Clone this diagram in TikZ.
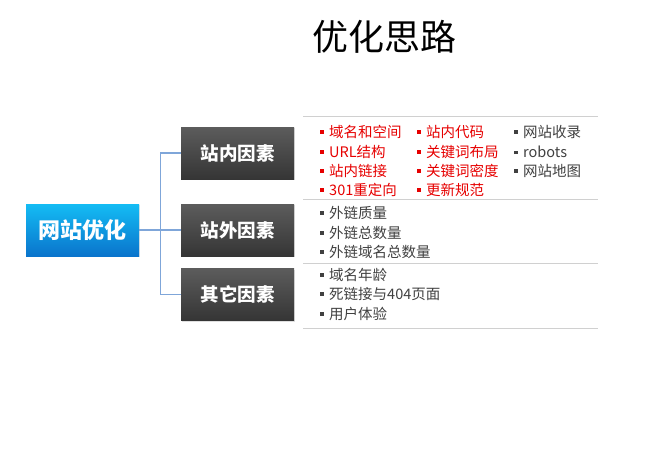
\documentclass[tikz,border=0pt]{standalone}
\usepackage{fontspec}
\setmainfont{Noto Sans CJK SC}
\usetikzlibrary{shadows}
\definecolor{itemred}{HTML}{E60000}
\definecolor{itemgray}{HTML}{404040}
\definecolor{linkblue}{HTML}{7FA6D9}
\definecolor{sepgray}{HTML}{D0D0D0}
\definecolor{boxtop}{HTML}{5C5C5C}
\definecolor{boxbot}{HTML}{353535}
\definecolor{bluetop}{HTML}{14BCF4}
\definecolor{bluebot}{HTML}{0A74CC}
\newcommand{\bul}[1]{\textcolor{#1}{\rule[0.25em]{3.5pt}{3.5pt}}\hspace{5.5pt}}
\tikzset{
  darkbox/.style={minimum width=113pt, minimum height=52pt, inner sep=0pt,
    top color=boxtop, bottom color=boxbot, draw=none, text=white,
    font=\fontsize{18.5}{22}\selectfont\bfseries,
    drop shadow={opacity=0.25, shadow xshift=1pt, shadow yshift=-1pt}},
  bluebox/.style={minimum width=113pt, minimum height=52pt, inner sep=0pt,
    top color=bluetop, bottom color=bluebot, draw=none, text=white,
    font=\fontsize{22}{26}\selectfont\bfseries,
    drop shadow={opacity=0.2, shadow xshift=1pt, shadow yshift=-1pt}},
  link/.style={draw=linkblue, line width=1.1pt},
  sep/.style={draw=sepgray, line width=1pt},
  ritem/.style={anchor=west, inner sep=0pt, text=itemred, font=\fontsize{14.5}{16}\selectfont},
  gitem/.style={anchor=west, inner sep=0pt, text=itemgray, font=\fontsize{14.5}{16}\selectfont},
}
\begin{document}
\begin{tikzpicture}[x=1pt,y=-1pt]
\useasboundingbox (0,0) rectangle (652,464);
\node[inner sep=0pt, font=\fontsize{36}{42}\selectfont] (title) at (384,37) {优化思路};

\node[bluebox] (web) at (82.5,230) {网站优化};
\node[darkbox] (in) at (237.5,153) {站内因素};
\node[darkbox] (out) at (237.5,230) {站外因素};
\node[darkbox] (oth) at (237.5,294.5) {其它因素};

\draw[link] (web.east) -- ++(21,0) |- (in.west);
\draw[link] (web.east) -- (out.west);
\draw[link] (web.east) -- ++(21,0) |- (oth.west);

\draw[sep] (303,116) -- (598,116);
\draw[sep] (303,199) -- (598,199);
\draw[sep] (303,263) -- (598,263);
\draw[sep] (303,328) -- (598,328);

\node[ritem] (a1) at (320,132) {\bul{itemred}域名和空间};
\node[ritem] (a2) at (320,152) {\bul{itemred}URL结构};
\node[ritem] (a3) at (320,171) {\bul{itemred}站内链接};
\node[ritem] (a4) at (320,190) {\bul{itemred}301重定向};
\node[ritem] (b1) at (417,132) {\bul{itemred}站内代码};
\node[ritem] (b2) at (417,152) {\bul{itemred}关键词布局};
\node[ritem] (b3) at (417,171) {\bul{itemred}关键词密度};
\node[ritem] (b4) at (417,190) {\bul{itemred}更新规范};
\node[gitem] (c1) at (514,132) {\bul{itemgray}网站收录};
\node[gitem] (c2) at (514,152) {\bul{itemgray}robots};
\node[gitem] (c3) at (514,171) {\bul{itemgray}网站地图};

\node[gitem] (d1) at (320,213) {\bul{itemgray}外链质量};
\node[gitem] (d2) at (320,233) {\bul{itemgray}外链总数量};
\node[gitem] (d3) at (320,252) {\bul{itemgray}外链域名总数量};

\node[gitem] (e1) at (320,275) {\bul{itemgray}域名年龄};
\node[gitem] (e2) at (320,294) {\bul{itemgray}死链接与404页面};
\node[gitem] (e3) at (320,314) {\bul{itemgray}用户体验};
\end{tikzpicture}
\end{document}
